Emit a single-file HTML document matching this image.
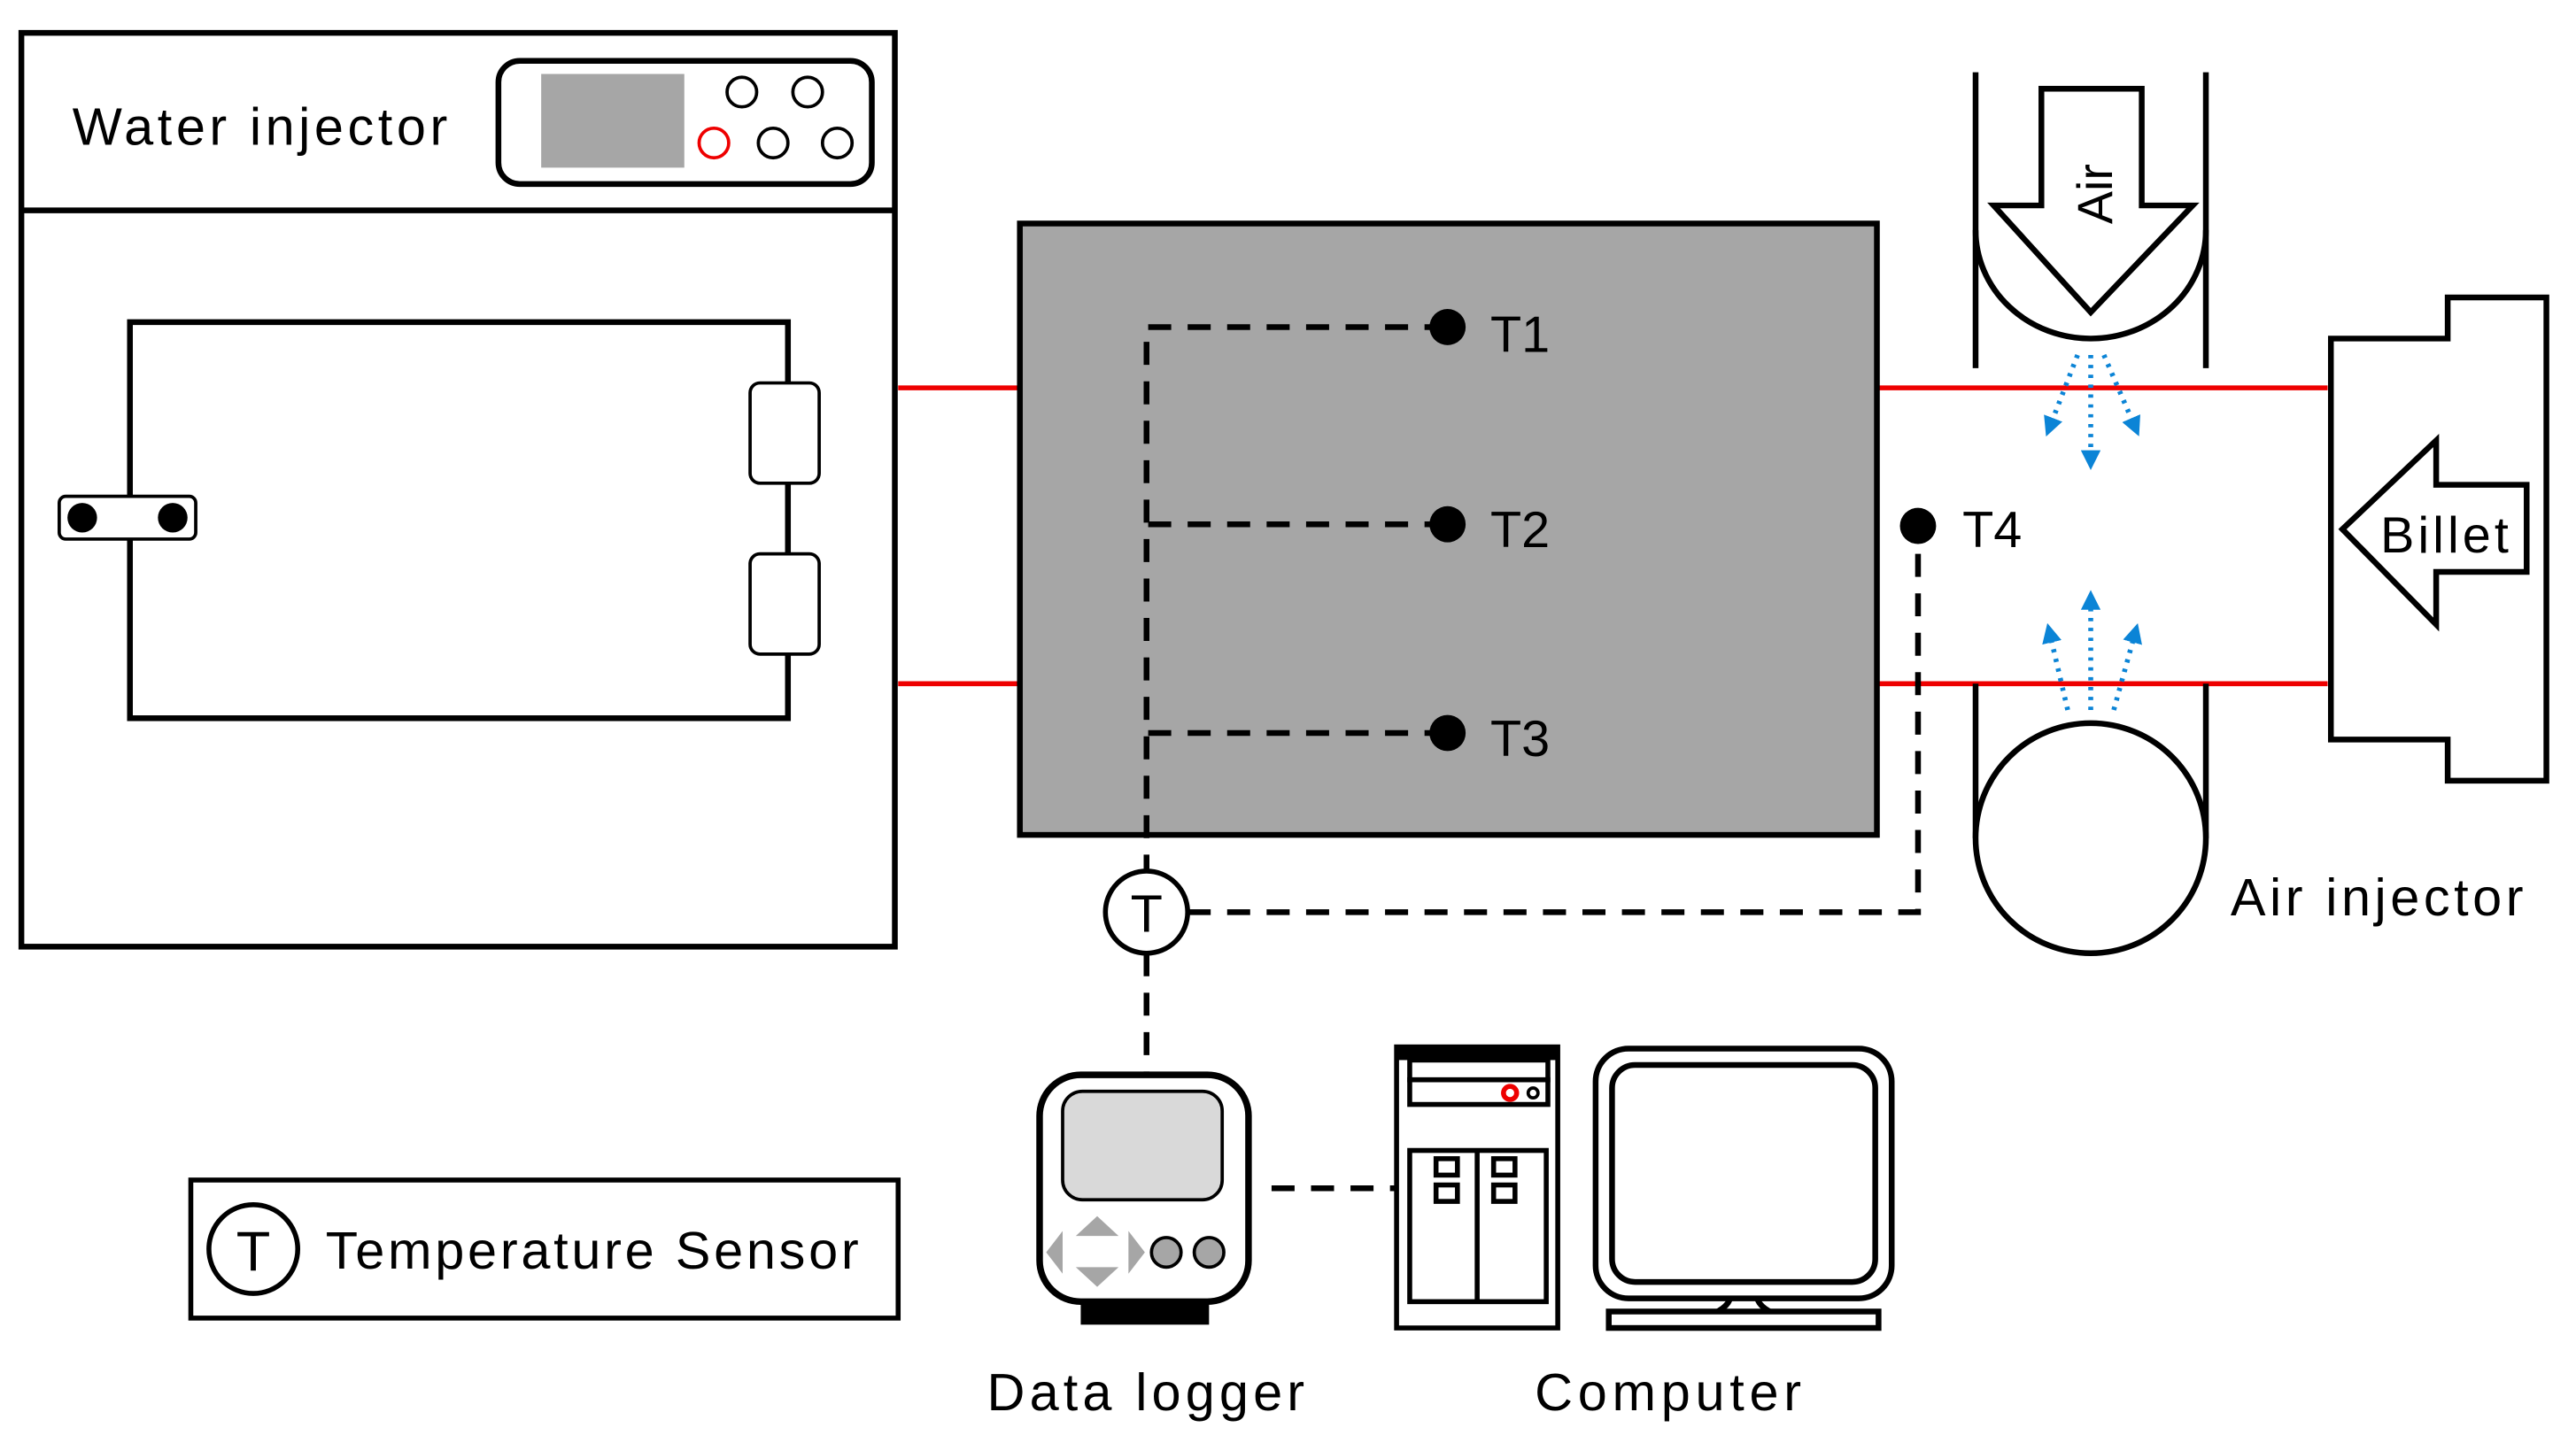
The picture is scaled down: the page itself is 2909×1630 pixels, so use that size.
<!DOCTYPE html>
<html><head><meta charset="utf-8"><style>
html,body{margin:0;padding:0;background:#fff;}
svg{display:block;}
text{font-family:"Liberation Sans",sans-serif;fill:#000;}
</style></head><body>
<svg width="2909" height="1630" viewBox="0 0 1566 878" preserveAspectRatio="none" xmlns="http://www.w3.org/2000/svg">
<defs>
<marker id="ah" viewBox="0 0 10 10" refX="5" refY="5" markerWidth="4" markerHeight="4" orient="auto"><path d="M0,0 L10,5 L0,10 z" fill="#0b84d6"/></marker>
</defs>
<!-- Water injector -->
<rect x="13" y="20" width="531" height="556" fill="#fff" stroke="#000" stroke-width="3.5"/>
<line x1="13" y1="128" x2="544" y2="128" stroke="#000" stroke-width="3.5"/>
<text x="44" y="88" font-size="32" textLength="228" lengthAdjust="spacing">Water injector</text>
<rect x="303" y="37" width="227" height="75" rx="13" fill="#fff" stroke="#000" stroke-width="3.5"/>
<rect x="329" y="45" width="87" height="57" fill="#a6a6a6"/>
<g fill="none" stroke="#000" stroke-width="2"><circle cx="451" cy="56" r="9"/><circle cx="491" cy="56" r="9"/><circle cx="470" cy="87" r="9"/><circle cx="509" cy="87" r="9"/></g>
<circle cx="434" cy="87" r="9" fill="none" stroke="#e00" stroke-width="2"/>
<rect x="79" y="196" width="400" height="241" fill="none" stroke="#000" stroke-width="3.5"/>
<rect x="36" y="302" width="83" height="26" rx="4" fill="#fff" stroke="#000" stroke-width="2"/>
<circle cx="50" cy="315" r="9"/><circle cx="105" cy="315" r="9"/>
<rect x="456" y="233" width="42" height="61" rx="6" fill="#fff" stroke="#000" stroke-width="2"/>
<rect x="456" y="337" width="42" height="61" rx="6" fill="#fff" stroke="#000" stroke-width="2"/>
<!-- red lines -->
<g stroke="#e00" stroke-width="3"><line x1="546" y1="236" x2="620" y2="236"/><line x1="546" y1="416" x2="620" y2="416"/><line x1="1141" y1="236" x2="1415" y2="236"/><line x1="1141" y1="416" x2="1415" y2="416"/></g>
<!-- gray chamber -->
<rect x="620" y="136" width="521" height="372" fill="#a6a6a6" stroke="#000" stroke-width="3.5"/>
<g stroke="#000" stroke-width="3.5" stroke-dasharray="14,10" fill="none">
<path d="M880,199 H697 V530"/><path d="M880,319 H697"/><path d="M880,446 H697"/>
<path d="M722,555 H1166 V320"/><path d="M697,580 V654"/><path d="M773,723 H848"/>
</g>
<circle cx="880" cy="199" r="11"/><circle cx="880" cy="319" r="11"/><circle cx="880" cy="446" r="11"/><circle cx="1166" cy="320" r="11"/>
<text x="906" y="214" font-size="31">T1</text><text x="906" y="333" font-size="31">T2</text><text x="906" y="460" font-size="31">T3</text><text x="1193" y="333" font-size="31">T4</text>
<circle cx="697" cy="555" r="25" fill="#fff" stroke="#000" stroke-width="3"/>
<text x="697" y="567" font-size="32" text-anchor="middle">T</text>
<!-- air injector -->
<g stroke="#000" stroke-width="3.5" fill="none">
<line x1="1201" y1="44" x2="1201" y2="224"/><line x1="1341" y1="44" x2="1341" y2="224"/>
<path d="M1201,140 A70,66 0 0 0 1341,140"/>
<line x1="1201" y1="416" x2="1201" y2="510"/><line x1="1341" y1="416" x2="1341" y2="510"/>
<ellipse cx="1271" cy="510" rx="70" ry="70" fill="#fff"/>
<polygon points="1241,54 1302,54 1302,125 1333,125 1271,190 1212,125 1241,125" fill="#fff"/>
<polygon points="1417,206 1488,206 1488,181 1548,181 1548,475 1488,475 1488,450 1417,450" fill="#fff"/>
<polygon points="1424,322 1481,268 1481,295 1536,295 1536,348 1481,348 1481,380" fill="#fff"/>
</g>
<text transform="translate(1284,118) rotate(-90)" font-size="30" text-anchor="middle">Air</text>
<text x="1447" y="336" font-size="31" textLength="78" lengthAdjust="spacing">Billet</text>
<text x="1356" y="557" font-size="32" textLength="178" lengthAdjust="spacing">Air injector</text>
<g stroke="#0b84d6" stroke-width="3" stroke-dasharray="2,4" fill="none" marker-end="url(#ah)">
<line x1="1263" y1="216" x2="1246" y2="260"/><line x1="1271" y1="216" x2="1271" y2="280"/><line x1="1279" y1="216" x2="1298" y2="260"/>
<line x1="1257" y1="432" x2="1246" y2="385"/><line x1="1271" y1="432" x2="1271" y2="365"/><line x1="1285" y1="432" x2="1298" y2="385"/>
</g>
<!-- data logger -->
<rect x="632" y="654" width="127" height="138" rx="25" fill="#fff" stroke="#000" stroke-width="4"/>
<rect x="646" y="664" width="97" height="66" rx="12" fill="#d9d9d9" stroke="#000" stroke-width="2"/>
<rect x="657" y="792" width="78" height="14" fill="#000"/>
<g fill="#a6a6a6"><polygon points="667,740 680,752 654,752"/><polygon points="667,783 680,771 654,771"/><polygon points="636,762 646,749 646,775"/><polygon points="696,762 686,749 686,775"/></g>
<circle cx="709" cy="762" r="9" fill="#a6a6a6" stroke="#000" stroke-width="2"/><circle cx="735" cy="762" r="9" fill="#a6a6a6" stroke="#000" stroke-width="2"/>
<!-- tower -->
<g stroke="#000" stroke-width="3" fill="#fff">
<rect x="849" y="637" width="98" height="171"/>
<rect x="857" y="645" width="84" height="12"/><rect x="857" y="657" width="84" height="15"/>
<rect x="857" y="700" width="83" height="92"/><line x1="898" y1="700" x2="898" y2="792"/>
<rect x="873" y="705" width="13" height="10"/><rect x="908" y="705" width="13" height="10"/>
<rect x="873" y="721" width="13" height="10"/><rect x="908" y="721" width="13" height="10"/>
</g>
<rect x="849" y="637" width="98" height="8" fill="#000"/>
<circle cx="918" cy="665" r="4" fill="#fff" stroke="#e00" stroke-width="3"/><circle cx="932" cy="665" r="3" fill="#fff" stroke="#000" stroke-width="2"/>
<!-- monitor -->
<g stroke="#000" stroke-width="3.5" fill="#fff">
<path d="M1052,788 Q1052,795 1040,800 L1080,800 Q1068,795 1068,788 Z"/>
<rect x="970" y="638" width="180" height="152" rx="20"/>
<rect x="980" y="648" width="160" height="132" rx="14"/>
<rect x="978" y="798" width="164" height="10"/>
</g>
<text x="600" y="858" font-size="32" textLength="193" lengthAdjust="spacing">Data logger</text>
<text x="933" y="858" font-size="32" textLength="162" lengthAdjust="spacing">Computer</text>
<!-- legend -->
<rect x="116" y="718" width="430" height="84" fill="#fff" stroke="#000" stroke-width="3"/>
<circle cx="154" cy="760" r="27" fill="#fff" stroke="#000" stroke-width="3"/>
<text x="154" y="773" font-size="34" text-anchor="middle">T</text>
<text x="198" y="772" font-size="32" textLength="324" lengthAdjust="spacing">Temperature Sensor</text>
</svg>
</body></html>
